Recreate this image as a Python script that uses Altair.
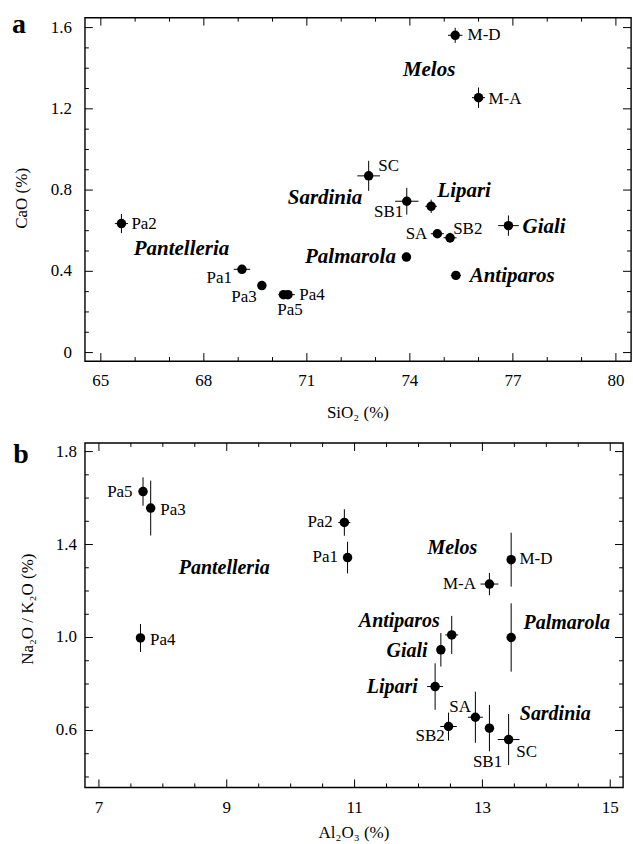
import altair as alt
import pandas as pd

FONT = "Liberation Serif, Tinos, Times New Roman, DejaVu Serif, serif"

# ---------------- Panel a: CaO vs SiO2 ----------------
a_names = ["Pa2", "Pa1", "Pa3", "Pa5", "Pa4", "M-D", "M-A", "SC", "SB1", "Lipari", "SA", "SB2", "Giali", "Palmarola", "Antiparos"]
a_sio2 = [65.6, 69.11, 69.69, 70.32, 70.45, 75.32, 76.0, 72.8, 73.91, 74.62, 74.8, 75.17, 76.87, 73.9, 75.34]
a_cao = [0.635, 0.41, 0.33, 0.285, 0.285, 1.562, 1.255, 0.87, 0.745, 0.72, 0.585, 0.565, 0.625, 0.47, 0.38]
a_sio2_err = [0.19, 0.24, 0.0, 0.15, 0.2, 0.21, 0.19, 0.33, 0.34, 0.17, 0.19, 0.19, 0.3, 0.0, 0.15]
a_cao_err = [0.047, 0.0, 0.0, 0.0, 0.0, 0.037, 0.05, 0.074, 0.066, 0.033, 0.0, 0.025, 0.05, 0.0, 0.0]

a_lab_text = ["Pa2", "Pa1", "Pa3", "Pa5", "Pa4", "M-D", "M-A", "SC", "SB1", "SA", "SB2"]
a_lab_x = [65.89, 68.82, 69.54, 70.51, 70.78, 75.68, 76.29, 73.08, 73.81, 74.51, 75.26]
a_lab_y = [0.635, 0.367, 0.272, 0.211, 0.285, 1.562, 1.25, 0.92, 0.693, 0.586, 0.609]
a_lab_anchor = ["left", "right", "right", "center", "left", "left", "left", "left", "right", "right", "left"]

a_isl_text = ["Melos", "Sardinia", "Lipari", "Giali", "Palmarola", "Antiparos", "Pantelleria"]
a_isl_x = [74.56, 71.53, 75.58, 77.91, 72.27, 76.98, 67.35]
a_isl_y = [1.39, 0.76, 0.795, 0.617, 0.469, 0.375, 0.509]

a_xdomain = [64.535, 80.44]
a_ydomain = [-0.042, 1.649]
a_xmajor = [65, 68, 71, 74, 77, 80]
a_xminor = [66, 67, 69, 70, 72, 73, 75, 76, 78, 79]
a_ymajor = [0, 0.4, 0.8, 1.2, 1.6]
a_ymajor_text = ["0", "0.4", "0.8", "1.2", "1.6"]
a_yminor = [0.1, 0.2, 0.3, 0.5, 0.6, 0.7, 0.9, 1.0, 1.1, 1.3, 1.4, 1.5]

# ---------------- Panel b: Na2O/K2O vs Al2O3 ----------------
b_names = ["Pa5", "Pa3", "Pa4", "Pa2", "Pa1", "M-D", "M-A", "Palmarola", "Antiparos", "Giali", "Lipari", "SA", "SB2", "SB1", "SC"]
b_al2o3 = [7.69, 7.81, 7.65, 10.84, 10.89, 13.45, 13.11, 13.45, 12.52, 12.35, 12.26, 12.89, 12.47, 13.11, 13.41]
b_ratio = [1.628, 1.557, 0.998, 1.495, 1.344, 1.335, 1.23, 1.0, 1.011, 0.947, 0.789, 0.657, 0.617, 0.61, 0.561]
b_al2o3_err = [0.0, 0.0, 0.0, 0.094, 0.0, 0.0, 0.14, 0.0, 0.1, 0.0, 0.125, 0.117, 0.13, 0.0, 0.17]
b_ratio_err = [0.061, 0.118, 0.06, 0.057, 0.068, 0.116, 0.048, 0.147, 0.082, 0.072, 0.1, 0.11, 0.06, 0.1, 0.11]

b_lab_text = ["Pa5", "Pa3", "Pa4", "Pa2", "Pa1", "M-D", "M-A", "SA", "SB2", "SB1", "SC"]
b_lab_x = [7.527, 7.96, 7.80, 10.66, 10.74, 13.58, 12.90, 12.65, 12.41, 13.08, 13.53]
b_lab_y = [1.625, 1.55, 0.991, 1.496, 1.345, 1.337, 1.23, 0.703, 0.578, 0.464, 0.507]
b_lab_anchor = ["right", "left", "left", "right", "right", "left", "right", "center", "right", "center", "left"]

b_isl_text = ["Pantelleria", "Melos", "Antiparos", "Giali", "Lipari", "Palmarola", "Sardinia"]
b_isl_x = [8.96, 12.53, 11.70, 11.82, 11.59, 14.32, 14.14]
b_isl_y = [1.30, 1.385, 1.07, 0.941, 0.786, 1.063, 0.671]

b_xdomain = [6.78, 15.2]
b_ydomain = [0.355, 1.837]
b_xmajor = [7, 9, 11, 13, 15]
b_xminor = [7.5, 8, 8.5, 9.5, 10, 10.5, 11.5, 12, 12.5, 13.5, 14, 14.5]
b_ymajor = [0.6, 1.0, 1.4, 1.8]
b_ymajor_text = ["0.6", "1.0", "1.4", "1.8"]
b_yminor = [0.4, 0.5, 0.7, 0.8, 0.9, 1.1, 1.2, 1.3, 1.5, 1.6, 1.7]


def panel(names, xs, ys, xe, ye, lab_text, lab_x, lab_y, lab_anchor,
          isl_text, isl_x, isl_y, xdom, ydom, xmaj, xmin, ymaj, ymaj_text, ymin,
          W, H, xtitle, ytitle, ylabpad, xlaby, ytitlex, ytitledy, xtitley,
          tag, tagx, tagy, islsize):
    df = pd.DataFrame({"name": names, "x": xs, "y": ys, "xe": xe, "ye": ye})
    df["xlo"] = df["x"] - df["xe"]
    df["xhi"] = df["x"] + df["xe"]
    df["ylo"] = df["y"] - df["ye"]
    df["yhi"] = df["y"] + df["ye"]

    xs_ = alt.Scale(domain=xdom, nice=False, zero=False)
    ys_ = alt.Scale(domain=ydom, nice=False, zero=False)

    def X(f):
        return alt.X(f, scale=xs_, axis=None)

    def Y(f):
        return alt.Y(f, scale=ys_, axis=None)

    pts = alt.Chart(df).mark_circle(size=90, color="black", opacity=1).encode(
        x=X("x:Q"), y=Y("y:Q"))
    herr = alt.Chart(df).transform_filter("datum.xe > 0").mark_rule(color="black", strokeWidth=1).encode(
        x=X("xlo:Q"), x2="xhi:Q", y=Y("y:Q"))
    verr = alt.Chart(df).transform_filter("datum.ye > 0").mark_rule(color="black", strokeWidth=1).encode(
        x=X("x:Q"), y=Y("ylo:Q"), y2="yhi:Q")

    ldf = pd.DataFrame({"t": lab_text, "x": lab_x, "y": lab_y, "a": lab_anchor})
    labels = []
    for anc in ["left", "right", "center"]:
        labels.append(
            alt.Chart(ldf).transform_filter(f"datum.a == '{anc}'").mark_text(
                font=FONT, fontSize=17, color="black", align=anc, baseline="middle"
            ).encode(x=X("x:Q"), y=Y("y:Q"), text="t:N")
        )

    idf = pd.DataFrame({"t": isl_text, "x": isl_x, "y": isl_y})
    isl = alt.Chart(idf).mark_text(
        font=FONT, fontSize=islsize, fontWeight="bold", fontStyle="italic",
        color="black", align="center", baseline="middle"
    ).encode(x=X("x:Q"), y=Y("y:Q"), text="t:N")

    # inward ticks on all four sides
    def yticks(vals, L):
        d = pd.DataFrame({"v": vals})
        left = alt.Chart(d).mark_rule(color="black", strokeWidth=1).encode(
            y=Y("v:Q"), x=alt.value(0), x2=alt.value(L))
        right = alt.Chart(d).mark_rule(color="black", strokeWidth=1).encode(
            y=Y("v:Q"), x=alt.value(W), x2=alt.value(W - L))
        return [left, right]

    def xticks(vals, L):
        d = pd.DataFrame({"v": vals})
        bot = alt.Chart(d).mark_rule(color="black", strokeWidth=1).encode(
            x=X("v:Q"), y=alt.value(H), y2=alt.value(H - L))
        top = alt.Chart(d).mark_rule(color="black", strokeWidth=1).encode(
            x=X("v:Q"), y=alt.value(0), y2=alt.value(L))
        return [bot, top]

    ticks = yticks(ymaj, 8) + yticks(ymin, 4) + xticks(xmaj, 8) + xticks(xmin, 4)

    # tick labels (drawn through the scales)
    xl = alt.Chart(pd.DataFrame({"v": xmaj, "t": [str(v) for v in xmaj]})).mark_text(
        font=FONT, fontSize=17, color="black", align="center", baseline="middle"
    ).encode(x=X("v:Q"), y=alt.value(H + xlaby), text="t:N")
    yl = alt.Chart(pd.DataFrame({"v": ymaj, "t": ymaj_text})).mark_text(
        font=FONT, fontSize=17, color="black", align="right", baseline="middle"
    ).encode(y=Y("v:Q"), x=alt.value(-ylabpad), text="t:N")

    # axis titles
    xt = alt.Chart(pd.DataFrame({"t": [xtitle]})).mark_text(
        font=FONT, fontSize=17, color="black", align="center", baseline="middle"
    ).encode(text="t:N", x=alt.value(W / 2), y=alt.value(H + xtitley))
    yt = alt.Chart(pd.DataFrame({"t": [ytitle]})).mark_text(
        font=FONT, fontSize=17, color="black", align="center", baseline="middle", angle=270
    ).encode(text="t:N", x=alt.value(ytitlex), y=alt.value(H / 2 + ytitledy))

    tagm = alt.Chart(pd.DataFrame({"t": [tag]})).mark_text(
        font=FONT, fontSize=28, fontWeight="bold", color="black", align="center", baseline="middle"
    ).encode(text="t:N", x=alt.value(tagx), y=alt.value(tagy))

    return alt.layer(pts, herr, verr, *labels, isl, *ticks, xl, yl, xt, yt, tagm).properties(width=W, height=H)


pa = panel(a_names, a_sio2, a_cao, a_sio2_err, a_cao_err,
           a_lab_text, a_lab_x, a_lab_y, a_lab_anchor,
           a_isl_text, a_isl_x, a_isl_y,
           a_xdomain, a_ydomain, a_xmajor, a_xminor, a_ymajor, a_ymajor_text, a_yminor,
           547, 344, "SiO\u2082 (%)", "CaO (%)", 13, 20, -63, 9, 52,
           "a", -66, 7, 21)

pb = panel(b_names, b_al2o3, b_ratio, b_al2o3_err, b_ratio_err,
           b_lab_text, b_lab_x, b_lab_y, b_lab_anchor,
           b_isl_text, b_isl_x, b_isl_y,
           b_xdomain, b_ydomain, b_xmajor, b_xminor, b_ymajor, b_ymajor_text, b_yminor,
           539, 345, "Al\u2082O\u2083 (%)", "Na\u2082O / K\u2082O (%)", 8, 21, -57, -6, 46,
           "b", -64, 12, 20)

chart = alt.vconcat(pa, pb, spacing=18).properties(
    padding={"left": 11, "top": 9, "right": 0, "bottom": 0}
).configure(background="white").configure_view(stroke="black", strokeWidth=1.4)

chart.save("out.html", embed_options={"renderer": "svg", "actions": False})
